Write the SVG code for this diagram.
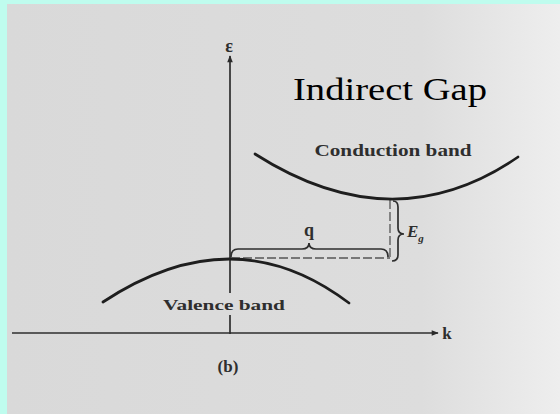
<svg xmlns="http://www.w3.org/2000/svg" width="560" height="414" viewBox="0 0 560 414">
  <defs>
    <linearGradient id="paper" x1="0" y1="0" x2="1" y2="0">
      <stop offset="0" stop-color="#d9d9d9"/>
      <stop offset="0.75" stop-color="#dddddd"/>
      <stop offset="1" stop-color="#eeeeee"/>
    </linearGradient>
    <marker id="arrow" viewBox="0 0 10 10" refX="9" refY="5" markerWidth="10" markerHeight="7" markerUnits="userSpaceOnUse" orient="auto">
      <path d="M0,1 L10,5 L0,9 Z" fill="#2a2a2a"/>
    </marker>
  </defs>
  <style>
    .axis { stroke: #2e2e2e; stroke-width: 1.7; fill: none; }
    .band { stroke: #1e1e1e; stroke-width: 2.7; fill: none; stroke-linecap: round; }
    .dash { stroke: #555; stroke-width: 1.3; fill: none; stroke-dasharray: 9 3; }
    .brace { stroke: #2e2e2e; stroke-width: 1.7; fill: none; }
    .lbl { font-family: "Liberation Serif", serif; fill: #2e2e2e; font-weight: bold; }
    .title { font-family: "Liberation Serif", "Times New Roman", serif; fill: #000; }
  </style>
  <rect x="0" y="0" width="560" height="414" fill="#bffcee"/>
  <rect x="7" y="4" width="553" height="410" fill="url(#paper)"/>

  <g id="connectors">
    <line class="axis" x1="12" y1="333" x2="438" y2="333" marker-end="url(#arrow)"/>
    <line class="axis" x1="230" y1="293" x2="230" y2="56" marker-end="url(#arrow)"/>
    <line class="axis" x1="230" y1="315" x2="230" y2="334"/>
    <line class="dash" x1="231" y1="258" x2="390" y2="258"/>
    <line class="dash" x1="390" y1="200" x2="390" y2="258"/>
  </g>

  <g id="conduction-band">
    <path class="band" d="M255,154 Q393.5,242.5 518,157"/>
    <text class="lbl" x="393" y="156" font-size="16" text-anchor="middle" textLength="157" lengthAdjust="spacingAndGlyphs">Conduction band</text>
  </g>

  <g id="valence-band">
    <path class="band" d="M103,302 Q234,215.5 349,303"/>
    <text class="lbl" x="224" y="310" font-size="15" text-anchor="middle" textLength="122" lengthAdjust="spacingAndGlyphs">Valence band</text>
  </g>

  <g id="q-brace">
    <path class="brace" d="M231,257 Q231,249 238,249 L302,249 Q309,249 309,243 Q309,249 316,249 L381,249 Q388,249 388,257"/>
    <text class="lbl" x="309" y="236" font-size="18" text-anchor="middle">q</text>
  </g>

  <g id="eg-brace">
    <path class="brace" d="M393,201 Q398,201 398,207 L398,228 Q398,234 404,234 Q398,234 398,240 L398,255 Q398,261 392,261"/>
    <text class="lbl" x="407" y="237" font-size="17" font-style="italic">E<tspan font-size="11" dy="5">g</tspan></text>
  </g>

  <g id="labels">
    <text class="lbl" x="229" y="52" font-size="18" text-anchor="middle">ε</text>
    <text class="lbl" x="447" y="339" font-size="17" text-anchor="middle">k</text>
    <text class="lbl" x="228" y="372" font-size="17" text-anchor="middle">(b)</text>
    <text class="title" x="293" y="100" font-size="32" textLength="194" lengthAdjust="spacingAndGlyphs">Indirect Gap</text>
  </g>
</svg>
